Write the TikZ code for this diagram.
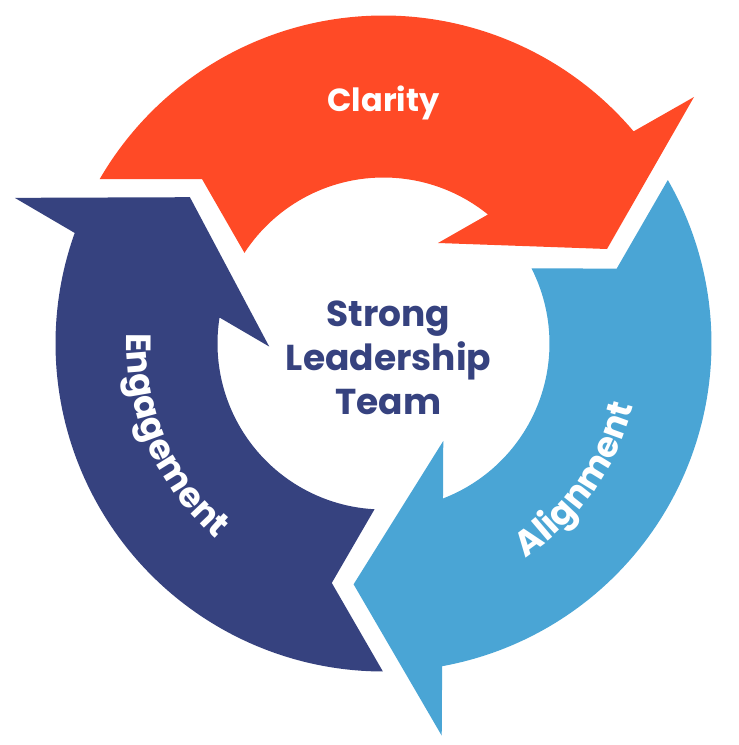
\documentclass[tikz,border=0pt]{standalone}
\usepackage{fontspec}
\setmainfont{Poppins}
\usetikzlibrary{decorations.text}
\definecolor{klarrot}{HTML}{FF4A26}
\definecolor{dunkelblau}{HTML}{36427F}
\definecolor{hellblau}{HTML}{4AA5D5}
\newcommand\ringfont{\fontsize{35}{40}\selectfont\bfseries}
\begin{document}
\begin{tikzpicture}[x=1pt,y=1pt]
%
% Kreislauf aus drei Pfeilen um die Mitte (0,0)
%
\useasboundingbox (-383.5,-401.5) rectangle (355.5,343.5);
% --- Pfeil 1: Clarity (oben) ---
\begin{scope}
  \fill[klarrot] (149.9:328) -- (-181.5,164.5) -- (146.9:166)
    arc[start angle=146.9,end angle=51.0,radius=166]
    -- (54.5,100.5) -- (223.5,94.5) -- (310.5,246.5) -- (40.3:328)
    arc[start angle=40.3,end angle=149.9,radius=328] -- cycle;
\end{scope}
% --- Pfeil 2: Alignment (rechts unten), um -120 Grad gedreht ---
\begin{scope}[rotate=-120]
  \fill[hellblau] (149.9:328) -- (-181.5,164.5) -- (146.9:166)
    arc[start angle=146.9,end angle=51.0,radius=166]
    -- (54.5,100.5) -- (223.5,94.5) -- (310.5,246.5) -- (40.3:328)
    arc[start angle=40.3,end angle=149.9,radius=328] -- cycle;
\end{scope}
% --- Pfeil 3: Engagement (links), um 120 Grad gedreht ---
\begin{scope}[rotate=120]
  \fill[dunkelblau] (149.9:328) -- (-181.5,164.5) -- (146.9:166)
    arc[start angle=146.9,end angle=51.0,radius=166]
    -- (54.5,100.5) -- (223.5,94.5) -- (310.5,246.5) -- (40.3:328)
    arc[start angle=40.3,end angle=149.9,radius=328] -- cycle;
\end{scope}
% Beschriftungen
\node[text=white,anchor=base,font=\fontsize{32}{36}\selectfont\bfseries] (clarity) at (0,231.8) {Clarity};
\path[decorate,decoration={text along path,text align=center,text color=white,
    text={|\ringfont|Engagement}}] (168.5:257) arc[start angle=168.5,end angle=238.5,radius=257];
\path[decorate,decoration={text along path,text align=center,text color=white,
    text={|\ringfont|Alignment}}] (-70.3:257) arc[start angle=-70.3,end angle=-0.3,radius=257];
% Mitte
\node[text=dunkelblau,align=center,font=\fontsize{36}{44}\selectfont\bfseries] (team) at (5,-14)
  {Strong\\Leadership\\Team};
\end{tikzpicture}
\end{document}
